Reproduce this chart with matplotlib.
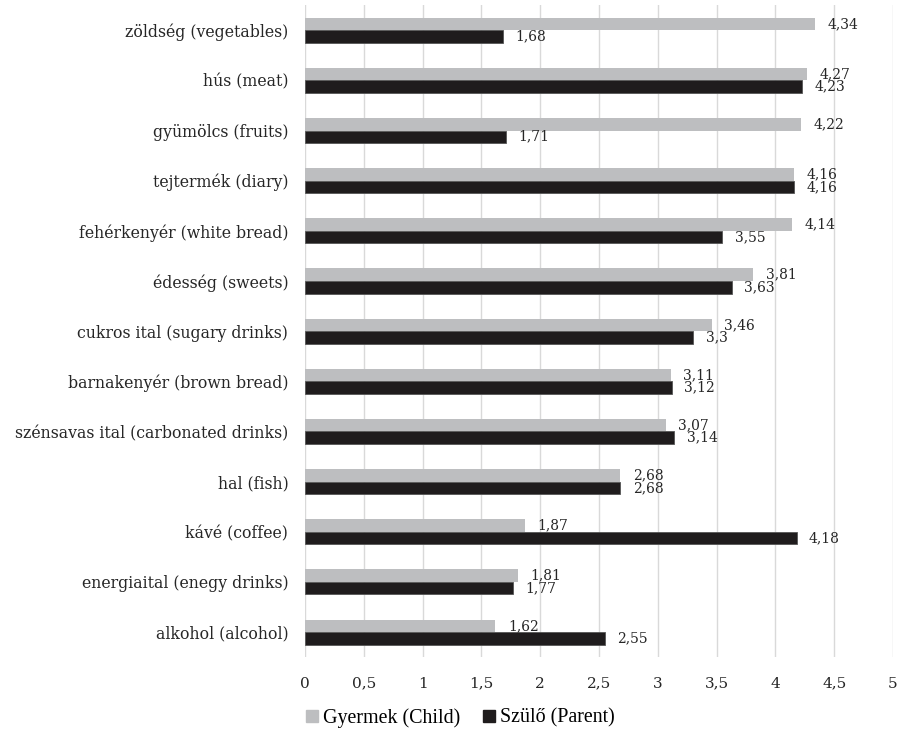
import numpy as np
from matplotlib import pyplot as plt
from matplotlib.lines import Line2D

# kategóriák (felülről lefelé)
categories = ["zöldség (vegetables)", "hús (meat)", "gyümölcs (fruits)",
              "tejtermék (diary)", "fehérkenyér (white bread)", "édesség (sweets)",
              "cukros ital (sugary drinks)", "barnakenyér (brown bread)",
              "szénsavas ital (carbonated drinks)", "hal (fish)", "kávé (coffee)",
              "energiaital (enegy drinks)", "alkohol (alcohol)"]
child = [4.34, 4.27, 4.22, 4.16, 4.14, 3.81, 3.46, 3.11, 3.07, 2.68, 1.87, 1.81, 1.62]
parent = [1.68, 4.23, 1.71, 4.16, 3.55, 3.63, 3.3, 3.12, 3.14, 2.68, 4.18, 1.77, 2.55]
xticks = [0, 0.5, 1, 1.5, 2, 2.5, 3, 3.5, 4, 4.5, 5]
series_names = ["Gyermek (Child)", "Szülő (Parent)"]

c_child = "#bdbec0"
c_parent = "#1f1c1d"
font = "DejaVu Serif"

fig = plt.figure(figsize=(8.98, 7.31), dpi=100)
ax = fig.add_axes([0.3396, 0.101, 0.6548, 0.892])

n = len(categories)
y = np.arange(n)
h = 0.25

ax.barh(y - h/2, child, height=h, color=c_child, zorder=3)
ax.barh(y + h/2, parent, height=h, color=c_parent, edgecolor="#555555", linewidth=0.6, zorder=3)

def fmt(v):
    s = ("%.2f" % v).rstrip("0").rstrip(".")
    return s.replace(".", ",")

for i in range(n):
    ax.annotate(fmt(child[i]), (child[i], y[i] - h/2), xytext=(9, 0), textcoords="offset points",
                ha="left", va="center", fontsize=10, family=font, color="#262626")
    ax.annotate(fmt(parent[i]), (parent[i], y[i] + h/2), xytext=(9, 0), textcoords="offset points",
                ha="left", va="center", fontsize=10, family=font, color="#262626")

ax.set_ylim(n - 0.5, -0.5)
ax.set_xlim(0, 5)
ax.set_xticks(xticks)
ax.set_xticklabels([fmt(t) for t in xticks], family=font, fontsize=11, color="#262626")
ax.set_yticks(y)
ax.set_yticklabels(categories, family=font, fontsize=11.3, color="#262626")
ax.tick_params(axis="y", length=0, pad=12)
ax.tick_params(axis="x", length=0, pad=14)
ax.grid(axis="x", color="#d9d9d9", linewidth=1, zorder=0)
for s in ax.spines.values():
    s.set_visible(False)

handles = [Line2D([], [], marker="s", linestyle="", markersize=8, color=c_child),
           Line2D([], [], marker="s", linestyle="", markersize=8, color=c_parent)]
fig.legend(handles, series_names, loc="center", bbox_to_anchor=(0.508, 0.018), ncol=2,
           frameon=False, handletextpad=-0.2, columnspacing=0.7, handlelength=1.5,
           prop={"family": "Liberation Serif", "size": 14.4})

plt.savefig("out.png", dpi=100)
